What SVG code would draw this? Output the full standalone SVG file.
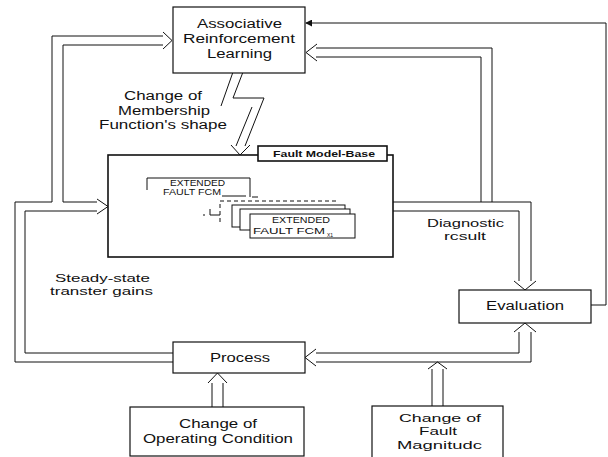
<svg xmlns="http://www.w3.org/2000/svg" width="608" height="457" viewBox="0 0 608 457">
<style>
.box{fill:#fff;stroke:#111;stroke-width:1.2}
.mb{fill:#fff;stroke:#111;stroke-width:1.6}
.ln{fill:none;stroke:#111;stroke-width:1}
.t{font-family:"Liberation Sans",Arial,sans-serif;font-size:12.5px;fill:#111}
.c{font-size:11.5px}
.s{font-size:8.5px}
.b{font-weight:bold;font-size:9.5px}
.d{stroke-dasharray:4 3}
</style>
<defs>
<marker id="ah" viewBox="0 0 8 8" refX="7" refY="4" markerWidth="7" markerHeight="7" orient="auto" markerUnits="userSpaceOnUse">
<path d="M0,0 L8,4 L0,8 Z" fill="#111"/>
</marker>
</defs>
<rect width="608" height="457" fill="#fff"/>

<g id="connectors">
<!-- left: Process -> model base / ARL -->
<path class="ln" d="M163,36 H52 V202 H15 V362 H173"/>
<path class="ln" d="M163,45 H63 V202 H97"/>
<path class="ln" d="M97,211 H25 V353 H173"/>
<path class="ln" d="M97,199 L108,206.5 L97,214"/>
<path class="ln" d="M163,32 L172,40.5 L163,49"/>
<!-- diagnostic result -> ARL and Evaluation -->
<path class="ln" d="M316,48 H492 V202"/>
<path class="ln" d="M316,57 H481 V202"/>
<path class="ln" d="M317,44 L306,52.5 L317,61"/>
<path class="ln" d="M393,202 H531 V281"/>
<path class="ln" d="M393,211 H519 V281"/>
<path class="ln" d="M514,281 L525,290 L536,281"/>
<!-- Evaluation -> Process -->
<path class="ln" d="M519,332 V353 H316"/>
<path class="ln" d="M531,332 V362 H316"/>
<path class="ln" d="M316,349 L305,357.5 L316,366"/>
<path class="ln" d="M514,332 L525,323 L536,332"/>
<!-- Fault magnitude up -->
<path class="ln" d="M432,406 V369 M443,406 V369"/>
<path class="ln" d="M428,369 L437.5,362 L447,369"/>
<!-- Operating condition up -->
<path class="ln" d="M212,407 V383 M223,407 V383"/>
<path class="ln" d="M208,383 L217.5,373 L227,383"/>
<!-- Evaluation feedback to ARL -->
<path class="ln" d="M591,305 H606 V23 H306" marker-end="url(#ah)"/>
<!-- lightning arrow -->
<path class="ln" d="M233,72 L221,106"/>
<path class="ln" d="M243,72 L233,98 H264 L245,146"/>
<path class="ln" d="M252,107 L236,146"/>
<path class="ln" d="M231,145 L240,155 L250,145"/>
<text class="t" x="124" y="100" textLength="78" lengthAdjust="spacingAndGlyphs">Change of</text>
<text class="t" x="118" y="115" textLength="92" lengthAdjust="spacingAndGlyphs">Membership</text>
<text class="t" x="99" y="129" textLength="128" lengthAdjust="spacingAndGlyphs">Function's shape</text>
<text class="t c" x="55" y="282" textLength="95" lengthAdjust="spacingAndGlyphs">Steady-state</text>
<text class="t c" x="50" y="295" textLength="103" lengthAdjust="spacingAndGlyphs">transter gains</text>
<text class="t c" x="427" y="227" textLength="77" lengthAdjust="spacingAndGlyphs">Diagnostic</text>
<text class="t c" x="444" y="240" textLength="42" lengthAdjust="spacingAndGlyphs">rcsult</text>
</g>

<g id="arl">
<rect class="box" x="173" y="7" width="132" height="66"/>
<text class="t" x="197" y="28" textLength="85" lengthAdjust="spacingAndGlyphs">Associative</text>
<text class="t" x="183" y="43" textLength="112" lengthAdjust="spacingAndGlyphs">Reinforcement</text>
<text class="t" x="207" y="58" textLength="65" lengthAdjust="spacingAndGlyphs">Learning</text>
</g>

<g id="modelbase">
<rect class="mb" x="108" y="155" width="285" height="102"/>
<rect class="mb" x="258" y="146" width="129" height="15"/>
<text class="t b" x="273" y="157" textLength="102" lengthAdjust="spacingAndGlyphs">Fault Model-Base</text>
<g id="fcm1">
<path class="ln" d="M147,190 V178 H250 V197"/>
<path class="ln" d="M222,196 H246 M252,197 H258"/>
<text class="t s" x="170" y="186" textLength="55" lengthAdjust="spacingAndGlyphs">EXTENDED</text>
<text class="t s" x="163" y="195" textLength="58" lengthAdjust="spacingAndGlyphs">FAULT FCM</text>
</g>
<g id="fcmstack">
<path class="ln d" d="M220,222 V201 H338"/>
<path class="ln" d="M203,215 H205 M210,209 V215 H220"/>
<rect class="box" x="232" y="205" width="113" height="22" style="stroke-width:1"/>
<rect class="box" x="240" y="209" width="110" height="21" style="stroke-width:1"/>
<rect class="box" x="250" y="214" width="105" height="24" style="stroke-width:1"/>
<text class="t s" x="272" y="223" textLength="58" lengthAdjust="spacingAndGlyphs">EXTENDED</text>
<text class="t s" x="253" y="234" textLength="72" lengthAdjust="spacingAndGlyphs">FAULT FCM</text>
<text class="t" x="327" y="237" style="font-size:5px">X1</text>
</g>
</g>

<g id="evaluation">
<rect class="box" x="459" y="290" width="132" height="33"/>
<text class="t" x="486" y="310" textLength="78" lengthAdjust="spacingAndGlyphs">Evaluation</text>
</g>

<g id="process">
<rect class="box" x="173" y="342" width="132" height="31"/>
<text class="t" x="210" y="362" textLength="60" lengthAdjust="spacingAndGlyphs">Process</text>
</g>

<g id="opcond">
<rect class="box" x="130" y="407" width="174" height="49"/>
<text class="t" x="179" y="428" textLength="78" lengthAdjust="spacingAndGlyphs">Change of</text>
<text class="t" x="143" y="443" textLength="150" lengthAdjust="spacingAndGlyphs">Operating Condition</text>
</g>

<g id="faultmag">
<rect class="box" x="372" y="406" width="131" height="56"/>
<text class="t c" x="399" y="422" textLength="82" lengthAdjust="spacingAndGlyphs">Change of</text>
<text class="t c" x="419" y="435" textLength="38" lengthAdjust="spacingAndGlyphs">Fault</text>
<text class="t c" x="397" y="449" textLength="85" lengthAdjust="spacingAndGlyphs">Magnitudc</text>
</g>
</svg>
